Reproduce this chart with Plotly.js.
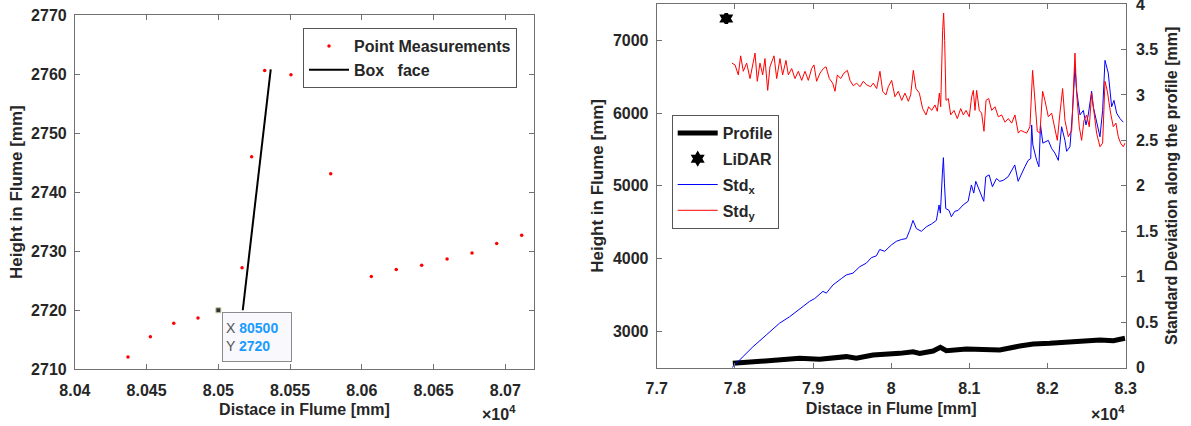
<!DOCTYPE html>
<html>
<head>
<meta charset="utf-8">
<script src="https://cdn.plot.ly/plotly-3.0.1.min.js"></script>
<style>html,body{margin:0;padding:0;background:#fff;}#chart{width:1191px;height:426px;}</style>
</head>
<body>
<div id="chart"></div>
<script>
// ---------- Left panel data ----------
const pointX = [80437.0, 80452.6, 80468.9, 80485.8, 80500.0, 80516.5, 80523.2, 80532.3, 80550.6, 80578.3, 80606.6, 80624.0, 80641.7, 80659.4, 80676.8, 80694.0, 80711.4];
const pointY = [2712.1, 2715.5, 2717.8, 2718.7, 2720.0, 2727.2, 2746.0, 2760.6, 2759.9, 2743.1, 2725.7, 2726.9, 2727.6, 2728.7, 2729.7, 2731.3, 2732.7];
const boxFaceX = [80517.0, 80536.5];
const boxFaceY = [2720.0, 2760.8];
const tipX = [80500];
const tipY = [2720];
const leftTickVals = [80400, 80450, 80500, 80550, 80600, 80650, 80700];
const leftTickText = ["8.04", "8.045", "8.05", "8.055", "8.06", "8.065", "8.07"];
const leftYTicks = [2710, 2720, 2730, 2740, 2750, 2760, 2770];

// ---------- Right panel data ----------
const profileX = [77974, 78402, 78828, 79085, 79426, 79554, 79767, 80108, 80279, 80365, 80536, 80629, 80706, 80962, 81218, 81389, 81645, 81816, 82029, 82242, 82456, 82671, 82842, 82991];
const profileY = [2560, 2597, 2629, 2615, 2652, 2629, 2675, 2697, 2720, 2697, 2729, 2780, 2734, 2757, 2757, 2743, 2798, 2826, 2835, 2849, 2872, 2881, 2872, 2904];
const lidarX = [77890];
const lidarY = [7300];
const stdXx = [77962, 78103, 78231, 78402, 78572, 78700, 78828, 78957, 79021, 79127, 79170, 79255, 79362, 79426, 79511, 79597, 79682, 79746, 79810, 79853, 79917, 80002, 80066, 80130, 80194, 80237, 80279, 80322, 80386, 80450, 80514, 80578, 80612, 80629, 80655, 80668, 80681, 80698, 80740, 80770, 80813, 80856, 80920, 80984, 81026, 81056, 81082, 81133, 81184, 81210, 81253, 81295, 81346, 81389, 81432, 81496, 81539, 81581, 81624, 81667, 81710, 81752, 81785, 81797, 81812, 81861, 81890, 81910, 81940, 82010, 82053, 82095, 82138, 82180, 82223, 82244, 82287, 82321, 82351, 82372, 82415, 82458, 82492, 82521, 82564, 82585, 82628, 82671, 82705, 82735, 82777, 82820, 82850, 82884, 82927, 82969];
const stdXy = [0.00, 0.12, 0.23, 0.36, 0.49, 0.56, 0.65, 0.73, 0.76, 0.84, 0.82, 0.91, 0.98, 1.02, 1.04, 1.11, 1.15, 1.21, 1.23, 1.30, 1.28, 1.35, 1.39, 1.41, 1.42, 1.51, 1.62, 1.53, 1.50, 1.55, 1.58, 1.62, 1.79, 1.70, 2.14, 2.31, 2.03, 1.75, 1.73, 1.66, 1.72, 1.73, 1.79, 1.83, 2.01, 1.92, 2.05, 1.95, 1.83, 2.10, 2.12, 1.99, 2.08, 2.05, 2.06, 2.10, 2.17, 2.23, 2.05, 2.14, 2.21, 2.28, 2.30, 2.67, 2.45, 2.28, 2.21, 2.67, 2.47, 2.50, 2.41, 2.36, 2.28, 2.65, 2.50, 2.38, 2.43, 2.83, 3.31, 3.05, 2.78, 2.83, 2.67, 2.78, 3.04, 2.87, 2.69, 2.54, 2.83, 3.38, 3.24, 2.87, 2.94, 2.80, 2.74, 2.70];
const stdYx = [77962, 78002, 78044, 78074, 78108, 78151, 78194, 78228, 78258, 78287, 78321, 78356, 78385, 78420, 78449, 78501, 78535, 78577, 78611, 78654, 78684, 78727, 78769, 78812, 78855, 78897, 78940, 78982, 79012, 79046, 79089, 79132, 79166, 79208, 79251, 79281, 79311, 79353, 79396, 79439, 79473, 79515, 79558, 79601, 79643, 79686, 79737, 79771, 79814, 79856, 79891, 79933, 79963, 80006, 80048, 80091, 80134, 80176, 80219, 80249, 80283, 80317, 80360, 80402, 80445, 80479, 80518, 80560, 80590, 80616, 80633, 80658, 80671, 80684, 80701, 80731, 80761, 80803, 80846, 80889, 80923, 80957, 80999, 81029, 81051, 81072, 81093, 81127, 81157, 81187, 81213, 81247, 81285, 81328, 81370, 81413, 81456, 81498, 81541, 81583, 81626, 81656, 81690, 81733, 81775, 81809, 81839, 81869, 81903, 81937, 81967, 82010, 82053, 82095, 82125, 82159, 82193, 82223, 82266, 82309, 82339, 82351, 82372, 82406, 82436, 82466, 82500, 82534, 82564, 82594, 82628, 82671, 82705, 82735, 82765, 82807, 82841, 82875, 82905, 82935, 82969, 82991];
const stdYy = [3.35, 3.33, 3.22, 3.43, 3.26, 3.35, 3.18, 3.34, 3.46, 3.15, 3.35, 3.22, 3.40, 3.05, 3.31, 3.43, 3.18, 3.40, 3.22, 3.38, 3.22, 3.29, 3.18, 3.26, 3.16, 3.26, 3.16, 3.29, 3.33, 3.15, 3.24, 3.29, 3.31, 3.18, 3.13, 3.04, 3.22, 3.18, 3.24, 3.27, 3.16, 3.10, 3.13, 3.09, 3.15, 3.11, 3.09, 3.13, 3.07, 3.26, 3.04, 3.00, 3.09, 3.16, 2.98, 3.04, 2.94, 3.02, 2.93, 3.00, 3.27, 3.07, 3.02, 2.85, 2.78, 2.87, 2.83, 2.89, 2.82, 3.02, 2.87, 3.71, 3.90, 3.60, 2.94, 2.96, 2.78, 2.83, 2.74, 2.85, 2.78, 2.83, 2.76, 2.98, 3.05, 2.83, 3.05, 2.83, 2.80, 2.60, 2.94, 2.96, 2.83, 2.87, 2.76, 2.78, 2.70, 2.74, 2.69, 2.78, 2.58, 2.61, 2.60, 2.58, 2.65, 3.27, 2.94, 2.60, 2.58, 3.04, 2.94, 2.76, 2.80, 2.61, 2.50, 2.80, 3.07, 2.72, 2.54, 2.61, 3.16, 3.46, 3.02, 2.65, 2.50, 2.72, 2.78, 2.65, 3.02, 2.78, 2.58, 2.43, 2.47, 3.15, 3.04, 2.80, 2.65, 2.69, 2.54, 2.47, 2.43, 2.47];
const rightXTickVals = [77000, 78000, 79000, 80000, 81000, 82000, 83000];
const rightXTickText = ["7.7", "7.8", "7.9", "8", "8.1", "8.2", "8.3"];
const heightTicks = [3000, 4000, 5000, 6000, 7000];
const stdTickVals = [0, 0.5, 1, 1.5, 2, 2.5, 3, 3.5, 4];
const stdTickText = ["0", "0.5", "1", "1.5", "2", "2.5", "3", "3.5", "4"];

// ---------- Layout helpers ----------
const W = 1191, H = 426;
const fx = v => v / W;
const fy = v => 1 - v / H;
const FONT = "Liberation Sans, Arial, Helvetica, sans-serif";
const TXT = "#262626";
const AX = "#707070";
const tickFont = {family: FONT, size: 16, color: TXT, weight: "bold"};
const titleFont = {family: FONT, size: 16, color: TXT, weight: "bold"};
const yTitleFont = {family: FONT, size: 17, color: TXT, weight: "bold"};
const axBase = {
  showline: true, linecolor: AX, linewidth: 1, ticks: "inside", ticklen: 5, tickcolor: AX,
  showgrid: false, zeroline: false, tickfont: tickFont, fixedrange: true, automargin: false,
  ticklabeloverflow: "allow"
};

const traces = [
  {x: pointX, y: pointY, xaxis: "x", yaxis: "y", mode: "markers", type: "scatter", name: "Point Measurements",
   marker: {color: "#ff0000", size: 3.5, symbol: "circle"}, legend: "legend"},
  {x: boxFaceX, y: boxFaceY, xaxis: "x", yaxis: "y", mode: "lines", type: "scatter", name: "Box\u00a0\u00a0\u00a0face",
   line: {color: "#000000", width: 2}, legend: "legend"},
  {x: tipX, y: tipY, xaxis: "x", yaxis: "y", mode: "markers", type: "scatter", showlegend: false, hoverinfo: "skip",
   marker: {color: "#333333", size: 5, symbol: "square", line: {color: "#c8c8a0", width: 1}}},
  {x: profileX, y: profileY, xaxis: "x2", yaxis: "y2", mode: "lines", type: "scatter", name: "Profile",
   line: {color: "#000000", width: 5}, legend: "legend2", legendgroup: "g1"},
  {x: lidarX, y: lidarY, xaxis: "x2", yaxis: "y2", mode: "markers", type: "scatter", name: "LiDAR",
   marker: {color: "#000000", size: 7, symbol: "hexagram", line: {color: "#000000", width: 3.5}}, legend: "legend2", legendgroup: "g2"},
  {x: stdXx, y: stdXy, xaxis: "x2", yaxis: "y3", mode: "lines", type: "scatter", name: "Std<sub>x</sub>",
   line: {color: "#0000ff", width: 1}, legend: "legend2", legendgroup: "g3"},
  {x: stdYx, y: stdYy, xaxis: "x2", yaxis: "y3", mode: "lines", type: "scatter", name: "Std<sub>y</sub>",
   line: {color: "#ff0000", width: 1}, legend: "legend2", legendgroup: "g4"}
];

const layout = {
  width: W, height: H,
  margin: {l: 0, r: 0, t: 0, b: 0},
  paper_bgcolor: "#ffffff", plot_bgcolor: "#ffffff",
  font: {family: FONT, color: TXT},
  xaxis: Object.assign({}, axBase, {
    domain: [fx(74.9), fx(534)], range: [80400, 80720], anchor: "y", mirror: "ticks",
    tickmode: "array", tickvals: leftTickVals, ticktext: leftTickText, ticklabelstandoff: 6,
    title: {text: "Distace in Flume [mm]", font: titleFont, standoff: 6}
  }),
  yaxis: Object.assign({}, axBase, {
    domain: [fy(369.3), fy(15)], range: [2710, 2770], anchor: "x", mirror: "ticks",
    tickmode: "array", tickvals: leftYTicks, ticklabelstandoff: 4,
    title: {text: "Height in Flume [mm]", font: yTitleFont, standoff: 4}
  }),
  xaxis2: Object.assign({}, axBase, {
    domain: [fx(656.7), fx(1125.7)], range: [77000, 83000], anchor: "y2", mirror: "ticks",
    tickmode: "array", tickvals: rightXTickVals, ticktext: rightXTickText, ticklabelstandoff: 6,
    title: {text: "Distace in Flume [mm]", font: titleFont, standoff: 6}
  }),
  yaxis2: Object.assign({}, axBase, {
    domain: [fy(367.7), fy(4)], range: [2500, 7500], anchor: "x2", side: "left",
    tickmode: "array", tickvals: heightTicks, ticklabelstandoff: 4,
    title: {text: "Height in Flume [mm]", font: yTitleFont, standoff: 4}
  }),
  yaxis3: Object.assign({}, axBase, {
    domain: [fy(367.7), fy(4)], range: [0, 4], anchor: "x2", overlaying: "y2", side: "right",
    tickmode: "array", tickvals: stdTickVals, ticktext: stdTickText, ticklabelstandoff: 6,
    title: {text: "Standard Deviation along the profile [mm]", font: titleFont, standoff: 8}
  }),
  legend: {
    x: fx(303), y: fy(28), xanchor: "left", yanchor: "top", xref: "paper", yref: "paper",
    bgcolor: "#ffffff", bordercolor: "#555555", borderwidth: 1, itemwidth: 40,
    font: {family: FONT, size: 16, color: TXT, weight: "bold"}, tracegroupgap: 0, itemclick: false
  },
  legend2: {
    x: fx(671.7), y: fy(115), xanchor: "left", yanchor: "top", xref: "paper", yref: "paper",
    bgcolor: "#ffffff", bordercolor: "#555555", borderwidth: 1, itemwidth: 40,
    traceorder: "grouped", tracegroupgap: 2,
    font: {family: FONT, size: 16, color: TXT, weight: "bold"}, itemclick: false
  },
  annotations: [
    {xref: "x", yref: "y", x: tipX[0], y: tipY[0], xanchor: "left", yanchor: "top", xshift: 4, yshift: -2,
     showarrow: false, align: "left", width: 62, height: 42, bgcolor: "#f8f8fd", bordercolor: "#8c8c8c",
     borderwidth: 1, borderpad: 3,
     font: {family: FONT, size: 14, color: "#555555"},
     text: "X <span style='color:#1a9cff;font-weight:bold'>" + tipX[0] + "</span><br>Y <span style='color:#1a9cff;font-weight:bold'>" + tipY[0] + "</span>"},
    {xref: "paper", yref: "paper", x: fx(518), y: fy(413), xanchor: "right", yanchor: "middle", showarrow: false,
     font: {family: FONT, size: 16, color: TXT, weight: "bold"}, text: "×10<sup>4</sup>"},
    {xref: "paper", yref: "paper", x: fx(1127), y: fy(413), xanchor: "right", yanchor: "middle", showarrow: false,
     font: {family: FONT, size: 16, color: TXT, weight: "bold"}, text: "×10<sup>4</sup>"}
  ],
  showlegend: true
};

Plotly.newPlot("chart", traces, layout, {staticPlot: true, displayModeBar: false});
</script>
</body>
</html>
